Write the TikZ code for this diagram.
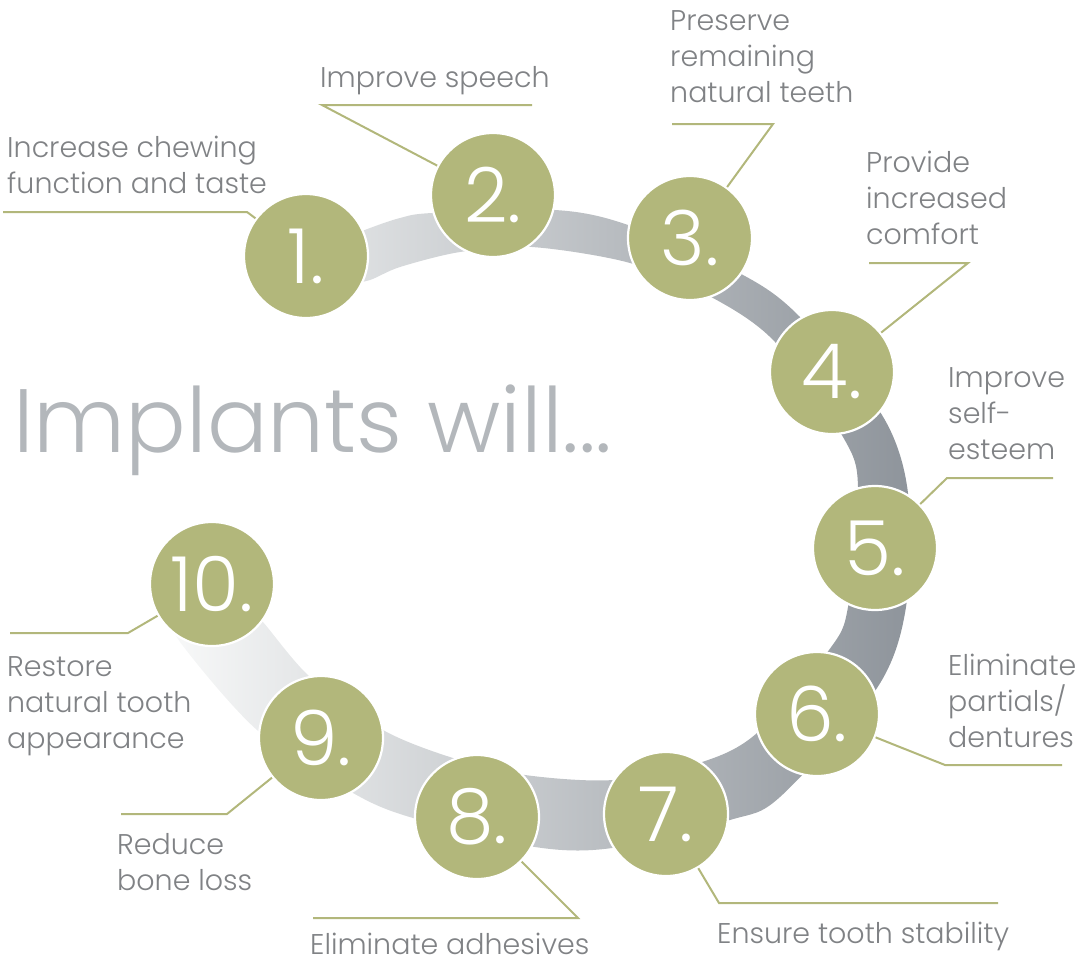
\documentclass[tikz,border=0pt]{standalone}
\usepackage{fontspec}
\setmainfont{Poppins Light}
\definecolor{oliveC}{HTML}{B2B77B}
\definecolor{txtC}{HTML}{808285}
\definecolor{titleC}{HTML}{B3B7BB}
\definecolor{bandL}{HTML}{F8F9F9}
\definecolor{bandR}{HTML}{8E949B}
\begin{document}
\begin{tikzpicture}[x=1pt,y=-1pt,
  numc/.style={circle, minimum size=124pt, inner sep=0pt, fill=oliveC, draw=white, line width=2.2pt, text=white, font=\fontsize{76}{76}\selectfont},
  conn/.style={draw=oliveC, line width=2pt},
  lbl/.style={anchor=base west, inner sep=0pt, align=left, text=txtC, font=\fontsize{28.5}{36}\selectfont},
  ttl/.style={anchor=base west, inner sep=0pt, text=titleC, font=\fontsize{90}{90}\selectfont}]
\useasboundingbox (0,0) rectangle (1091,962);
% band
\shade[left color=bandL, right color=bandR]
  plot[smooth] coordinates {(168,610) (180,642) (257,730) (353,793) (413,818) (535,847) (612,848) (730,820) (780,797) (877,688) (906,607) (908,493) (882,415) (800,317) (743,275) (628,225) (555,210) (432,213) (400,218) (370,228) (340,240)}
  -- plot[smooth] coordinates {(345,285) (370,280) (400,267) (460,252) (532,247) (630,263) (713,298) (775,342) (843,437) (858,487) (848,607) (829,650) (757,733) (702,762) (613,780) (525,775) (453,758) (383,730) (310,677) (263,622) (240,598)}
  -- cycle;
% circles
\node[numc] (n1) at (306,256) {1.};
\node[numc] (n2) at (493,195) {2.};
\node[numc] (n3) at (690,238) {3.};
\node[numc] (n4) at (832,372) {4.};
\node[numc] (n5) at (875,548) {5.};
\node[numc] (n6) at (817,714) {6.};
\node[numc] (n7) at (666,814) {7.};
\node[numc] (n8) at (477,817) {8.};
\node[numc] (n9) at (321,738) {9.};
\node[numc] (n10) at (212,584) {10.};
% title
\node[ttl] (title) at (13,452) {Implants will...};
% labels (anchored at the baseline of the last line)
\node[lbl] (t1) at (7,193) {Increase chewing\\function and taste};
\node[lbl] (t2) at (320,87) {Improve speech};
\node[lbl] (t3) at (670,102) {Preserve\\remaining\\natural teeth};
\node[lbl] (t4) at (866,244) {Provide\\increased\\comfort};
\node[lbl] (t5) at (948,459) {Improve\\self-\\esteem};
\node[lbl] (t6) at (948,747) {Eliminate\\partials/\\dentures};
\node[lbl] (t7) at (717,943) {Ensure tooth stability};
\node[lbl] (t8) at (310,954) {Eliminate adhesives};
\node[lbl] (t9) at (117,890) {Reduce\\bone loss};
\node[lbl] (t10) at (7,748) {Restore\\natural tooth\\appearance};
% connector points
\coordinate (a1) at (3,212);   \coordinate (b1) at (247,212);
\coordinate (a2) at (532,105); \coordinate (b2) at (322,105);
\coordinate (a3) at (672,124); \coordinate (b3) at (773,124);
\coordinate (a4) at (869,263); \coordinate (b4) at (968,263);
\coordinate (a5) at (1053,478);\coordinate (b5) at (947,478);
\coordinate (a6) at (1062,765);\coordinate (b6) at (945,765);
\coordinate (a7) at (998,903); \coordinate (b7) at (719,903);
\coordinate (a8) at (313,918); \coordinate (b8) at (578,918);
\coordinate (a9) at (121,814); \coordinate (b9) at (227,814);
\coordinate (a10) at (10,633); \coordinate (b10) at (128,633);
\draw[conn] (a1) -- (b1) -- (n1);
\draw[conn] (a2) -- (b2) -- (n2);
\draw[conn] (a3) -- (b3) -- (n3);
\draw[conn] (a4) -- (b4) -- (n4);
\draw[conn] (a5) -- (b5) -- (n5);
\draw[conn] (a6) -- (b6) -- (n6);
\draw[conn] (a7) -- (b7) -- (n7);
\draw[conn] (a8) -- (b8) -- (n8);
\draw[conn] (a9) -- (b9) -- (n9);
\draw[conn] (a10) -- (b10) -- (n10);
\end{tikzpicture}
\end{document}
